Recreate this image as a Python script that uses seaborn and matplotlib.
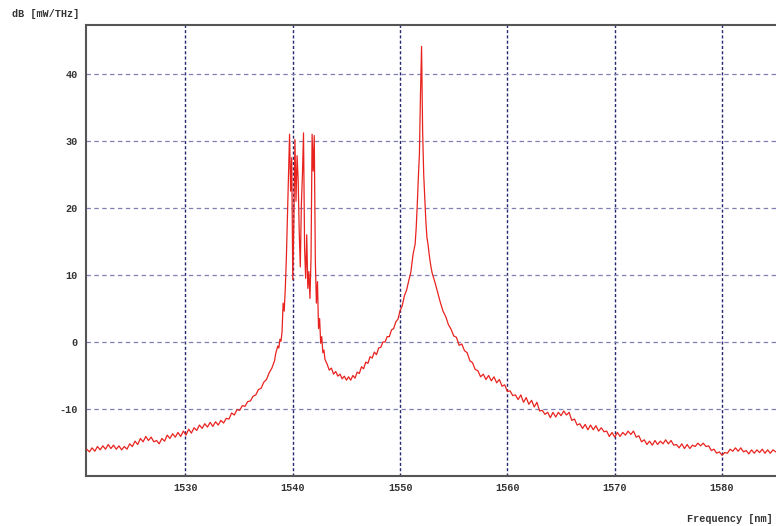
import numpy as np
import pandas as pd
import matplotlib
matplotlib.use("Agg")
import matplotlib.pyplot as plt
import seaborn as sns

# Optical spectrum trace, sampled on uniform grids per segment (nm, dB)
seg_a_start, seg_a_step = 1520.80, 0.25
seg_a_db = [
    -16.0, -16.4, -15.8, -16.3, -15.6, -16.1, -15.5, -16.0, -15.3, -15.9,
    -15.4, -16.0, -15.5, -16.1, -15.6, -16.0, -15.2, -15.6, -14.8, -15.3,
    -14.4, -14.9, -14.1, -14.7, -14.2, -14.9, -14.7, -15.2, -14.4, -14.8,
    -13.9, -14.4, -13.7, -14.2, -13.5, -14.1, -13.3, -13.9, -13.0, -13.6,
    -12.8, -13.2, -12.4, -12.9, -12.2, -12.7, -12.0, -12.6, -11.9, -12.4,
    -11.7, -12.1, -11.4, -11.5, -10.6, -10.9, -10.1, -10.2, -9.5, -9.6,
    -8.9, -8.8, -8.1, -7.9, -7.1, -6.9, -6.0, -5.6, -4.6, -3.9,
    -2.8,
]

seg_b_start, seg_b_step = 1538.40, 0.10
seg_b_db = [
    -1.8, -1.2, -0.6, -0.9, 0.4, 0.1, 1.5, 5.8, 4.6, 7.9,
    12.4, 18.5, 24.0, 31.0, 22.5, 27.5, 9.3, 18.0, 30.2, 21.0,
    27.8, 24.2, 16.5, 11.2, 20.5, 25.0, 31.2, 14.0, 9.5, 16.0,
    8.0, 10.5, 6.5, 12.5, 31.0, 25.5, 30.8, 12.2, 5.8, 9.0,
    2.0, 3.5, -0.2, 0.8, -1.6, -1.2, -2.6,
]

seg_c_start, seg_c_step = 1543.20, 0.20
seg_c_db = [
    -3.3, -4.2, -3.9, -4.8, -4.4, -5.1, -4.8, -5.5, -5.1, -5.7,
    -5.2, -5.7, -5.0, -5.4, -4.5, -4.7, -3.7, -4.0, -3.0, -3.2,
    -2.2, -2.4, -1.5, -1.9, -0.9, -0.8, 0.0, 0.0, 0.8, 0.8,
    1.8, 2.0, 3.0, 3.4, 4.7, 5.4, 6.9, 7.7, 9.1, 10.4,
    13.0, 14.6,
]

seg_d_start, seg_d_step = 1551.50, 0.10
seg_d_db = [
    17.0, 20.5, 24.5, 28.0, 37.0, 44.1, 31.5, 25.0, 21.5, 18.0,
    15.6, 14.6, 13.2, 12.0, 11.0,
]

seg_e_start, seg_e_step = 1553.00, 0.25
seg_e_db = [
    10.2, 8.9, 7.4, 5.9, 4.6, 3.8, 2.6, 1.9, 0.9, 0.7,
    -0.5, -0.3, -1.3, -1.6, -2.8, -3.1, -4.1, -4.3, -5.2, -4.8,
    -5.6, -5.0, -5.8, -5.2, -6.1, -5.6, -6.6, -6.4, -7.4, -7.3,
    -8.0, -7.9, -8.6, -7.9, -9.0, -8.3, -9.3, -8.7, -9.7, -9.0,
    -10.3, -10.2, -10.8, -10.5, -11.3, -10.5, -11.2, -10.5, -11.0, -10.3,
    -10.9, -10.5, -11.7, -11.5, -12.4, -12.2, -12.9, -12.3, -13.1, -12.4,
    -13.1, -12.5, -13.3, -12.8, -13.4, -13.3, -14.1, -13.5, -14.2, -13.5,
    -14.1, -13.5, -13.9, -13.3, -13.8, -13.3, -14.2, -14.0, -14.9, -14.6,
    -15.3, -14.8, -15.4, -14.7, -15.3, -14.8, -15.2, -14.6, -15.2, -14.7,
    -15.4, -15.3, -15.8, -15.2, -15.9, -15.3, -15.9, -15.4, -15.6, -15.1,
    -15.5, -15.1, -15.6, -15.5, -16.2, -16.0, -16.6, -16.4, -16.9, -16.5,
    -16.6, -16.0, -16.3, -15.8, -16.3, -15.8, -16.4, -16.2, -16.7, -16.1,
    -16.6, -16.1, -16.5, -16.0, -16.6, -16.1, -16.6, -16.1, -16.4,
]

x_ticks = [1530, 1540, 1550, 1560, 1570, 1580]
y_ticks = [-10, 0, 10, 20, 30, 40]
x_label = "Frequency [nm]"
y_label = "dB [mW/THz]"


def segment(start, step, values):
    wl = start + step * np.arange(len(values))
    return pd.DataFrame({"wavelength": np.round(wl, 3), "power": values})


trace = pd.concat(
    [
        segment(seg_a_start, seg_a_step, seg_a_db),
        segment(seg_b_start, seg_b_step, seg_b_db),
        segment(seg_c_start, seg_c_step, seg_c_db),
        segment(seg_d_start, seg_d_step, seg_d_db),
        segment(seg_e_start, seg_e_step, seg_e_db),
    ],
    ignore_index=True,
)

sns.set_style("white")
mono = ["Liberation Mono", "DejaVu Sans Mono"]
plt.rcParams["font.family"] = mono

fig = plt.figure(figsize=(7.76, 5.26), dpi=100)
ax = fig.add_axes([86 / 776, 1 - 476 / 526, 690 / 776, (476 - 25) / 526])

# grid drawn first so the trace sits on top
for xv in x_ticks:
    ax.axvline(xv, color="#27276f", lw=1.0, ls=(0, (2.2, 1.6)), zorder=1)
for yv in y_ticks:
    ax.axhline(yv, color="#7f7fb5", lw=0.9, ls=(0, (3.5, 2.8)), zorder=1)

sns.lineplot(
    data=trace, x="wavelength", y="power", ax=ax,
    color="#e8231f", lw=0.9, estimator=None, sort=False, zorder=3,
)

ax.set_xlim(1520.73, 1585.03)
ax.set_ylim(-20, 47.3)
ax.set_xticks(x_ticks)
ax.set_yticks(y_ticks)
ax.set_xticklabels([str(v) for v in x_ticks])
ax.set_yticklabels([str(v) for v in y_ticks])
ax.set_xlabel("")
ax.set_ylabel("")

for side in ("left", "bottom", "top"):
    ax.spines[side].set_color("#555555")
    ax.spines[side].set_linewidth(1.5)
ax.spines["right"].set_visible(False)

ax.tick_params(axis="y", direction="out", length=4, width=1, color="#555555",
               labelsize=7.3, labelcolor="#333333", pad=2)
ax.tick_params(axis="x", direction="inout", length=6, width=1, color="#555555",
               labelsize=7.3, labelcolor="#333333", pad=2)
for lab in ax.get_xticklabels() + ax.get_yticklabels():
    lab.set_fontweight("bold")

fig.text(12 / 776, 1 - 14 / 526, y_label, fontsize=7.3, fontweight="bold",
         color="#333333", ha="left", va="center", family=mono)
fig.text(773 / 776, 1 - 519 / 526, x_label, fontsize=7.3, fontweight="bold",
         color="#333333", ha="right", va="center", family=mono)

fig.savefig("out.png", dpi=100)
